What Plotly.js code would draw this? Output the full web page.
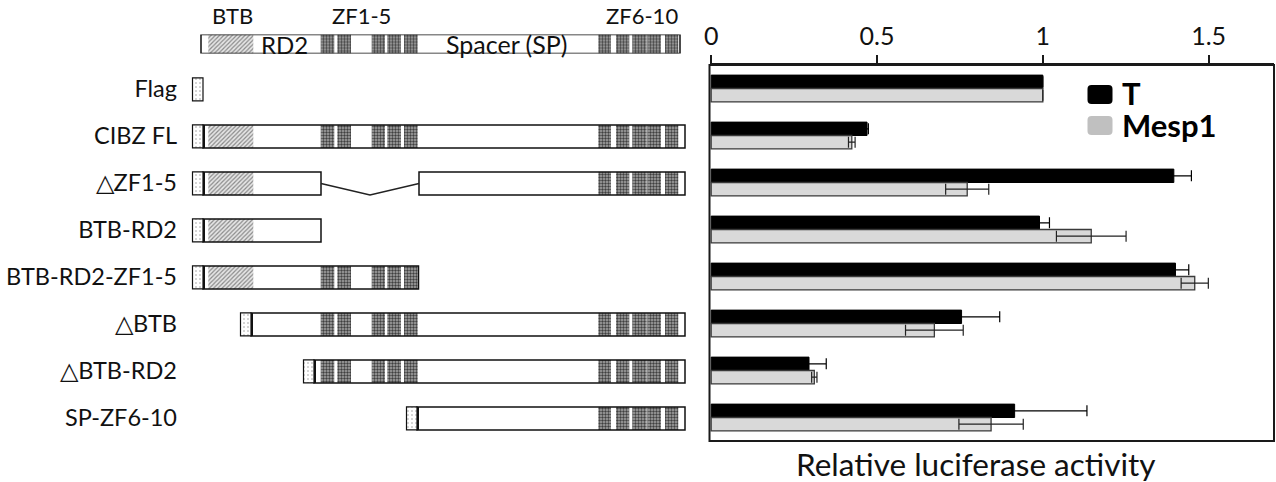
<!DOCTYPE html>
<html><head><meta charset="utf-8">
<script src="https://cdn.plot.ly/plotly-3.0.1.min.js"></script>
<style>html,body{margin:0;padding:0;background:#fff;} #chart{width:1276px;height:482px;}</style>
</head><body><div id="chart"></div>
<script>
// ---------- data ----------
const categories = ['Flag', 'CIBZ FL', '\u25B3ZF1-5', 'BTB-RD2', 'BTB-RD2-ZF1-5', '\u25B3BTB', '\u25B3BTB-RD2', 'SP-ZF6-10'];
const tValues = [1.00, 0.47, 1.395, 0.99, 1.40, 0.755, 0.295, 0.915];
const tErrors = [0, 0.004, 0.053, 0.03, 0.04, 0.115, 0.052, 0.218];
const mesp1Values = [1.00, 0.424, 0.772, 1.146, 1.458, 0.673, 0.311, 0.844];
const mesp1Errors = [0, 0.01, 0.065, 0.105, 0.041, 0.087, 0.008, 0.097];
const seriesNames = ['T', 'Mesp1'];
const tickValues = [0, 0.5, 1, 1.5];
const tickLabels = ['0', '0.5', '1', '1.5'];

// schematic (units along the full-length protein diagram)
const constructSegments = [
  [],
  [[0, 482]],
  [[0, 118], [216, 482]],
  [[0, 118]],
  [[0, 215.5]],
  [[48, 482]],
  [[111, 482]],
  [[214, 482]]
];
const overviewSegments = [[-2, 477]];
const btbDomain = [[5.3, 50.3]];
const zfDomains = [[117.7, 131.3], [134.3, 148], [168.7, 182], [184.3, 198], [201, 214.7],
                   [395.3, 408], [413, 426.3], [429.3, 443.7], [444.3, 458], [462, 475.3]];
const flagLength = 10.5;
const domainLabels = ['BTB', 'ZF1-5', 'ZF6-10'];
const regionLabels = ['RD2', 'Spacer (SP)'];

// ---------- helpers ----------
const W = 1276, H = 482;
const px = v => v / W;
const py = v => 1 - v / H;
const FONT = 'Lato, "Open Sans", sans-serif';
const ROW_W = 0.49, ROW_OFF = -0.245 + 0.02;

function clipDomains(domains, segs, startPad) {
  const out = [];
  segs.forEach((s, k) => {
    const lo = s[0] + (k === 0 ? startPad : 0);
    domains.forEach(d => {
      const a = Math.max(d[0], lo), b = Math.min(d[1], s[1]);
      if (b - a > 1) out.push([a, b]);
    });
  });
  return out;
}
function schem(ys, pieces, marker, yaxis, width, offset) {
  return {type: 'bar', orientation: 'h', xaxis: 'x2', yaxis: yaxis,
    y: ys, base: pieces.map(p => p[0]), x: pieces.map(p => p[1] - p[0]),
    width: width, offset: offset, marker: marker, showlegend: false, hoverinfo: 'skip'};
}

const whiteM = {color: '#ffffff', line: {width: 0}};
const outlineM = {color: 'rgba(0,0,0,0)', line: {color: '#111', width: 1.5}};
const flagM = {color: '#ffffff', pattern: {shape: '.', fgcolor: '#9a9a9a', bgcolor: '#ffffff', size: 4, solidity: 0.12}, line: {color: '#111', width: 1.2}};
const btbM = {color: '#cccccc', pattern: {shape: '/', fgcolor: '#8a8a8a', bgcolor: '#e6e6e6', size: 3, solidity: 0.4}, line: {width: 0}};
const zfM = {color: '#777777', pattern: {shape: '.', fgcolor: '#404040', bgcolor: '#a8a8a8', size: 3, solidity: 0.5}, line: {width: 0}};
const sepM = {color: '#111', line: {width: 0}};

// collect schematic pieces
const body = {y: [], p: []}, btb = {y: [], p: []}, zf = {y: [], p: []}, flag = {y: [], p: []}, sep = {y: [], p: []};
categories.forEach((c, i) => {
  const segs = constructSegments[i];
  const start = segs.length ? segs[0][0] : 0;
  flag.y.push(c); flag.p.push([start - flagLength, start]);
  if (!segs.length) return;
  sep.y.push(c); sep.p.push([start, start + 2]);
  segs.forEach(s => { body.y.push(c); body.p.push(s); });
  clipDomains(btbDomain, segs, 2).forEach(p => { btb.y.push(c); btb.p.push(p); });
  clipDomains(zfDomains, segs, 2).forEach(p => { zf.y.push(c); zf.p.push(p); });
});

const traces = [];
traces.push(schem(body.y, body.p, whiteM, 'y', ROW_W, ROW_OFF));
traces.push(schem(btb.y, btb.p, btbM, 'y', ROW_W, ROW_OFF));
traces.push(schem(zf.y, zf.p, zfM, 'y', ROW_W, ROW_OFF));
traces.push(schem(body.y, body.p, outlineM, 'y', ROW_W, ROW_OFF));
traces.push(schem(flag.y, flag.p, flagM, 'y', ROW_W, ROW_OFF));
traces.push(schem(sep.y, sep.p, sepM, 'y', ROW_W, ROW_OFF));

// overview diagram
const ovY = overviewSegments.map(() => 0);
const ovBtb = clipDomains(btbDomain, overviewSegments, 0);
const ovZf = clipDomains(zfDomains, overviewSegments, 0);
traces.push(schem(ovY, overviewSegments, whiteM, 'y3', 1, -0.5));
traces.push(schem(ovBtb.map(() => 0), ovBtb, btbM, 'y3', 1, -0.5));
traces.push(schem(ovZf.map(() => 0), ovZf, zfM, 'y3', 1, -0.5));
traces.push(schem(ovY, overviewSegments, outlineM, 'y3', 1, -0.5));

// main bars
traces.push({type: 'bar', orientation: 'h', name: seriesNames[0], y: categories, x: tValues,
  xaxis: 'x', yaxis: 'y', showlegend: false,
  marker: {color: '#000000', line: {color: '#000', width: 1}},
  error_x: {type: 'data', array: tErrors, visible: true, color: '#000', thickness: 1.2, width: 5.5}});
traces.push({type: 'bar', orientation: 'h', name: seriesNames[1], y: categories, x: mesp1Values,
  xaxis: 'x', yaxis: 'y', showlegend: false,
  marker: {color: '#d9d9d9', line: {color: '#3a3a3a', width: 1.3}},
  error_x: {type: 'data', array: mesp1Errors, visible: true, color: '#222', thickness: 1.2, width: 5.5}});

// shapes
const shapes = [];
shapes.push({type: 'rect', xref: 'x domain', yref: 'y domain', x0: 0, x1: 1, y0: 0, y1: 1,
  line: {color: '#1a1a1a', width: 2}, fillcolor: 'rgba(0,0,0,0)', layer: 'above'});
// deletion connector (V) between gapped segments
categories.forEach((c, i) => {
  const segs = constructSegments[i];
  for (let k = 1; k < segs.length; k++) {
    const a = segs[k - 1][1], b = segs[k][0], yc = i + ROW_OFF + ROW_W / 2, yb = i + ROW_OFF + ROW_W;
    shapes.push({type: 'path', xref: 'x2', yref: 'y',
      path: `M ${a},${yc} L ${(a + b) / 2},${yb} L ${b},${yc}`,
      line: {color: '#222', width: 1.5}});
  }
});
// legend swatches
const swatch = 'M -8.5,-9.5 H 8.5 Q 12.5,-9.5 12.5,-5.5 V 5.5 Q 12.5,9.5 8.5,9.5 H -8.5 Q -12.5,9.5 -12.5,5.5 V -5.5 Q -12.5,-9.5 -8.5,-9.5 Z';
[['#000000', 94.5], ['#c0c0c0', 125.5]].forEach(s => {
  shapes.push({type: 'path', xref: 'paper', yref: 'paper', xsizemode: 'pixel', ysizemode: 'pixel',
    xanchor: px(1100), yanchor: py(s[1]), path: swatch, fillcolor: s[0], line: {width: 0}});
});

const annotations = [];
const txt = (text, x, y, xref, size, opts) => Object.assign({text: text, x: x, y: y, xref: xref, yref: 'paper',
  showarrow: false, xanchor: 'center', yanchor: 'middle',
  font: {family: FONT, size: size, color: '#111'}}, opts || {});
annotations.push(txt(domainLabels[0], 29, py(15), 'x2', 22));
annotations.push(txt(domainLabels[1], 158.7, py(15), 'x2', 22));
annotations.push(txt(domainLabels[2], 439.3, py(15), 'x2', 22));
annotations.push(txt(regionLabels[0], 81, py(44), 'x2', 24));
annotations.push(txt(regionLabels[1], 303.7, py(44), 'x2', 25));
annotations.push(txt('Relative luciferase activity', px(976), py(464), 'paper', 31.5));
annotations.push(txt(seriesNames[0], px(1120), py(93.5), 'paper', 31, {xanchor: 'left', font: {family: FONT, size: 31, color: '#000', weight: 'bold'}}));
annotations.push(txt(seriesNames[1], px(1120), py(125), 'paper', 31, {xanchor: 'left', font: {family: FONT, size: 31, color: '#000', weight: 'bold'}}));

const layout = {
  width: W, height: H, margin: {l: 0, r: 0, t: 0, b: 0},
  paper_bgcolor: '#fff', plot_bgcolor: 'rgba(0,0,0,0)',
  barmode: 'group', bargap: 0.43, bargroupgap: 0,
  showlegend: false,
  font: {family: FONT, color: '#111'},
  xaxis: {domain: [px(709.5), px(1274)], range: [-0.005, 1.697], side: 'top', anchor: 'y',
    showline: true, linecolor: '#1a1a1a', linewidth: 2, ticks: 'outside', ticklen: 8, tickwidth: 2, tickcolor: '#1a1a1a',
    tickvals: tickValues, ticktext: tickLabels, tickfont: {family: FONT, size: 25, color: '#111'},
    showgrid: false, zeroline: false, fixedrange: true},
  yaxis: {domain: [py(441), py(65)], type: 'category', categoryorder: 'array', categoryarray: categories,
    range: [7.5, -0.5], autorange: false, anchor: 'x2', showline: false, showgrid: false, zeroline: false,
    ticks: '', tickfont: {family: FONT, size: 23.5, color: '#111'}, fixedrange: true},
  xaxis2: {domain: [px(178), px(700)], range: [-25, 497], anchor: 'y', visible: false, fixedrange: true},
  yaxis3: {domain: [py(53.5), py(34.5)], range: [-0.5, 0.5], anchor: 'x2', visible: false, fixedrange: true},
  shapes: shapes, annotations: annotations
};
Plotly.newPlot('chart', traces, layout, {displayModeBar: false, staticPlot: true});
</script>
</body></html>
